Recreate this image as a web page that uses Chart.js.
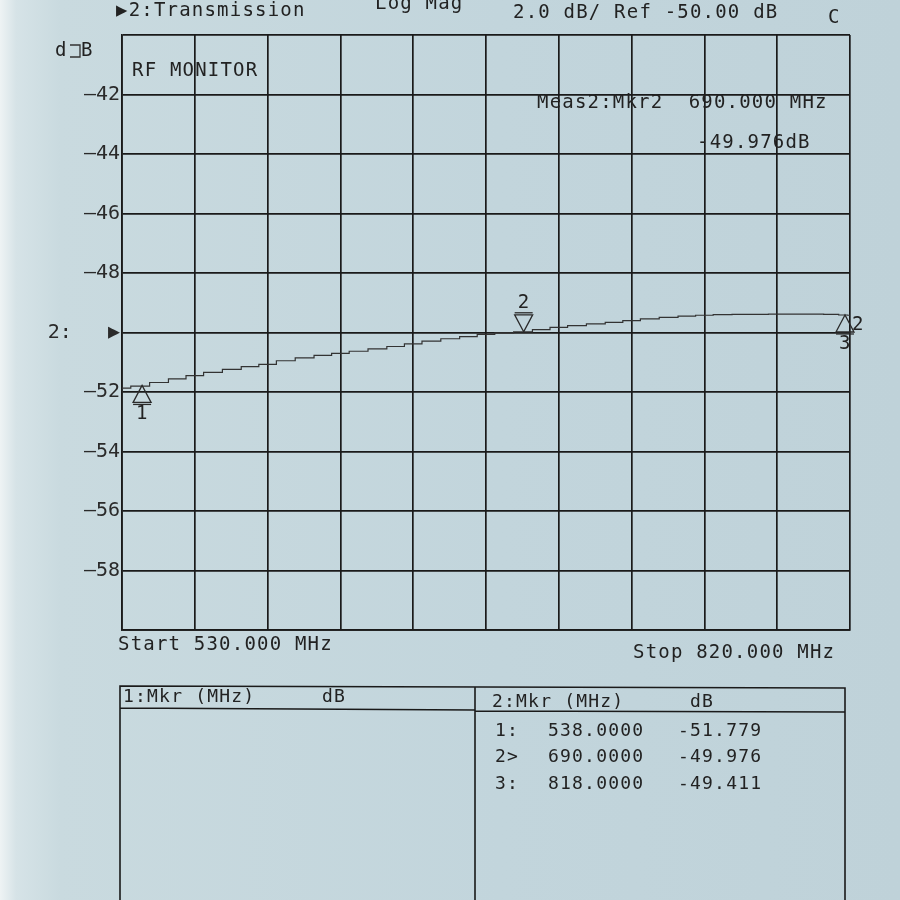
<!DOCTYPE html>
<html>
<head>
<meta charset="utf-8">
<script src="https://cdn.jsdelivr.net/npm/chart.js@4.4.1/dist/chart.umd.min.js"></script>
<style>
  html, body { margin: 0; padding: 0; }
  body {
    width: 900px; height: 900px; overflow: hidden;
    background: linear-gradient(to right, #eef3f4 0px, #d6e3e7 16px, #c9dadf 60px, #c2d5dc 500px, #bfd2d9 900px);
  }
  #wrap { position: absolute; left: 0; top: 0; width: 900px; height: 900px; }
</style>
</head>
<body>
<div id="wrap"><canvas id="c" width="900" height="900"></canvas></div>
<script>
// ---- data ----
const startFreq = 530;      // MHz
const stopFreq = 820;       // MHz
const freqs = [530, 537, 545, 552, 559, 566, 574, 581, 588, 595, 603, 610, 617, 624, 632, 639, 646, 653, 661, 668, 675, 682, 690,
               697, 704, 711, 719, 726, 733, 740, 748, 755, 762, 769, 777, 784, 791, 798, 806, 813, 818, 820];
const trace = [-51.87, -51.80, -51.68, -51.56, -51.45, -51.34, -51.24, -51.15, -51.07, -50.95, -50.85, -50.77, -50.70, -50.63, -50.55, -50.47, -50.38, -50.29, -50.21, -50.14, -50.06, -50.01, -49.976,
               -49.90, -49.83, -49.77, -49.71, -49.66, -49.60, -49.54, -49.49, -49.45, -49.42, -49.40, -49.39, -49.39, -49.38, -49.38, -49.38, -49.39, -49.411, -49.42];
const markerIds = ['1', '2', '3'];
const markerFreqs = [538.0, 690.0, 818.0];
const markerVals = [-51.779, -49.976, -49.411];
const markerRows = ['1:', '2>', '3:'];
const yTickValues = [-60, -58, -56, -54, -52, -50, -48, -46, -44, -42, -40];
const yTickLabels = ['', '—58', '—56', '—54', '—52', '2:   ▶', '—48', '—46', '—44', '—42', ''];
const xDivisions = 10;
const refLevel = -50;

const INK = '#1a1a1a';
const FONT = '"DejaVu Sans Mono", "Liberation Mono", monospace';

function txt(ctx, s, x, y, size, color) {
  ctx.save();
  ctx.font = size + 'px ' + FONT;
  ctx.fillStyle = color || '#222';
  ctx.textBaseline = 'middle';
  ctx.textAlign = 'left';
  try { ctx.letterSpacing = '1.2px'; } catch (e) {}
  ctx.fillText(s, x, y);
  ctx.restore();
}

const overlay = {
  id: 'overlay',
  afterDatasetsDraw(chart) {
    const ctx = chart.ctx;
    const xs = chart.scales.x, ys = chart.scales.y;
    ctx.save();
    ctx.strokeStyle = '#2a2a2a';
    ctx.lineWidth = 1.3;
    markerFreqs.forEach((f, i) => {
      const px = xs.getPixelForValue(f), py = ys.getPixelForValue(markerVals[i]);
      ctx.beginPath();
      if (markerIds[i] === '2') {
        ctx.moveTo(px, py);
        ctx.lineTo(px - 9, py - 17);
        ctx.lineTo(px + 9, py - 17);
        ctx.closePath();
        ctx.stroke();
        ctx.beginPath(); ctx.moveTo(px - 9, py - 19); ctx.lineTo(px + 9, py - 19); ctx.stroke();
        txt(ctx, '2', px - 6, py - 29, 19);
      } else {
        ctx.moveTo(px, py);
        ctx.lineTo(px - 9, py + 17);
        ctx.lineTo(px + 9, py + 17);
        ctx.closePath();
        ctx.stroke();
        ctx.beginPath(); ctx.moveTo(px - 9, py + 19); ctx.lineTo(px + 9, py + 19); ctx.stroke();
        txt(ctx, markerIds[i], px - 6, py + 29, 19);
      }
    });
    ctx.restore();
    // reference indicator on right edge
    txt(ctx, '2', chart.chartArea.right + 2, ys.getPixelForValue(refLevel) - 7, 19);
  },
  afterDraw(chart) {
    const ctx = chart.ctx;
    // header
    txt(ctx, '▶2:Transmission', 116, 11, 19);
    txt(ctx, 'Log Mag', 375, 4, 19);
    txt(ctx, '2.0 dB/ Ref -50.00 dB', 513, 13, 19);
    txt(ctx, 'C', 828, 18, 19);
    txt(ctx, 'd', 55, 51, 19);
    txt(ctx, 'B', 81, 51, 19);
    ctx.save(); ctx.strokeStyle = '#333'; ctx.lineWidth = 1.3;
    ctx.beginPath(); ctx.moveTo(70, 45); ctx.lineTo(80, 45); ctx.lineTo(80, 57); ctx.lineTo(70, 57); ctx.stroke();
    ctx.restore();
    txt(ctx, 'RF MONITOR', 132, 71, 19);
    txt(ctx, 'Meas2:Mkr2  ' + markerFreqs[1].toFixed(3) + ' MHz', 537, 103, 19);
    txt(ctx, markerVals[1].toFixed(3) + 'dB', 697, 143, 19);
    txt(ctx, 'Start ' + startFreq.toFixed(3) + ' MHz', 118, 645, 19);
    txt(ctx, 'Stop ' + stopFreq.toFixed(3) + ' MHz', 633, 653, 19);

    // marker table
    ctx.save();
    ctx.strokeStyle = INK; ctx.lineWidth = 1.6;
    ctx.beginPath();
    ctx.moveTo(120, 905); ctx.lineTo(120, 686); ctx.lineTo(845, 688); ctx.lineTo(845, 905);
    ctx.moveTo(475, 687); ctx.lineTo(475, 905);
    ctx.moveTo(120, 708); ctx.lineTo(475, 710);
    ctx.moveTo(475, 711); ctx.lineTo(845, 712);
    ctx.stroke();
    ctx.restore();
    txt(ctx, '1:Mkr (MHz)', 123, 697, 18);
    txt(ctx, 'dB', 322, 697, 18);
    txt(ctx, '2:Mkr (MHz)', 492, 702, 18);
    txt(ctx, 'dB', 690, 702, 18);
    markerRows.forEach((r, i) => {
      const y = 731 + i * 26.5;
      txt(ctx, r, 495, y, 18);
      txt(ctx, markerFreqs[i].toFixed(4), 548, y, 18);
      txt(ctx, markerVals[i].toFixed(3), 678, y, 18);
    });
  }
};

new Chart(document.getElementById('c'), {
  type: 'line',
  data: {
    datasets: [{
      data: freqs.map((f, i) => ({ x: f, y: trace[i] })),
      borderColor: '#333',
      borderWidth: 1.2,
      pointRadius: 0,
      stepped: 'middle',
      fill: false
    }]
  },
  options: {
    responsive: false,
    animation: false,
    devicePixelRatio: 1,
    layout: { padding: { left: 0, top: 35, right: 50, bottom: 270 } },
    plugins: { legend: { display: false }, tooltip: { enabled: false } },
    scales: {
      x: {
        type: 'linear', min: startFreq, max: stopFreq,
        afterBuildTicks: (s) => {
          const step = (stopFreq - startFreq) / xDivisions;
          s.ticks = Array.from({ length: xDivisions + 1 }, (_, i) => ({ value: startFreq + i * step }));
        },
        afterFit: (s) => { s.height = 0; },
        ticks: { display: false },
        grid: { color: INK, lineWidth: 1.7, drawTicks: false },
        border: { display: true, color: INK, width: 1.7 }
      },
      y: {
        type: 'linear', min: -60, max: -40,
        afterBuildTicks: (s) => { s.ticks = yTickValues.map(v => ({ value: v })); },
        afterFit: (s) => { s.width = 122; },
        ticks: {
          callback: (v) => { const k = yTickValues.indexOf(v); return k >= 0 ? yTickLabels[k] : ''; },
          font: { family: FONT, size: 20 },
          color: '#2a2a2a',
          padding: 2
        },
        grid: { color: INK, lineWidth: 1.7, drawTicks: false },
        border: { display: true, color: INK, width: 1.7 }
      }
    }
  },
  plugins: [overlay]
});
</script>
</body>
</html>
